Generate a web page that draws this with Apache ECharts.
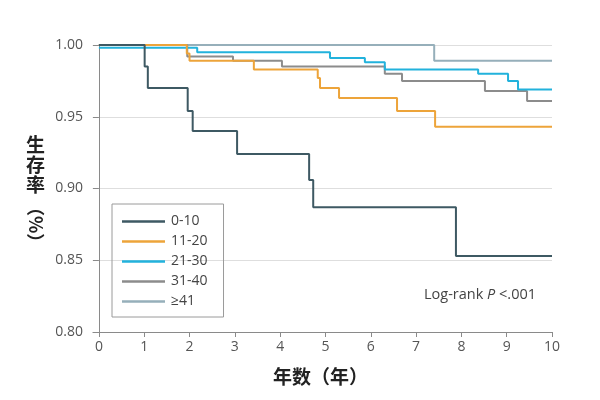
<!DOCTYPE html>
<html>
<head>
<meta charset="utf-8">
<script src="https://cdn.jsdelivr.net/npm/echarts@6/dist/echarts.min.js"></script>
<style>html,body{margin:0;padding:0;background:#fff}#c{width:600px;height:400px}</style>
</head>
<body>
<div id="c"></div>
<script>
var seriesNames = ['0-10', '11-20', '21-30', '31-40', '≥41'];
var g0_10 = [[0,1.000],[1.01,0.985],[1.08,0.970],[1.96,0.954],[2.07,0.940],[3.05,0.924],[4.64,0.906],[4.73,0.887],[7.88,0.853],[10,0.853]];
var g11_20 = [[0,1.000],[1.94,0.994],[2.00,0.989],[3.42,0.983],[4.83,0.977],[4.88,0.970],[5.30,0.963],[6.58,0.954],[7.42,0.943],[10,0.943]];
var g21_30 = [[0,0.998],[2.17,0.995],[5.10,0.991],[5.87,0.988],[6.31,0.983],[8.37,0.980],[9.03,0.975],[9.25,0.969],[10,0.969]];
var g31_40 = [[0,1.000],[1.95,0.992],[2.96,0.989],[4.04,0.985],[6.31,0.980],[6.69,0.975],[8.52,0.968],[9.45,0.961],[10,0.961]];
var g41 = [[0,1.000],[7.40,0.989],[10,0.989]];
var xTicks = [0,1,2,3,4,5,6,7,8,9,10];
var yTicks = [0.80,0.85,0.90,0.95,1.00];

var colors = ['#3e5963', '#eda43a', '#22b2dc', '#8c8c8c', '#96afba'];
var allData = [g0_10, g11_20, g21_30, g31_40, g41];

var chart = echarts.init(document.getElementById('c'), null, {renderer: 'canvas'});
var font = '"Open Sans", "Noto Sans", sans-serif';
var cjk = '"Noto Sans CJK SC", sans-serif';

var series = allData.map(function(d, i){
  return {
    name: seriesNames[i], type: 'line', step: 'end', data: d,
    symbol: 'none', showSymbol: false,
    lineStyle: {color: colors[i], width: 2},
    itemStyle: {color: colors[i]},
    z: 10 - i
  };
});

chart.setOption({
  animation: false,
  backgroundColor: '#fff',
  grid: {left: 93, right: 48, top: 45, bottom: 68, containLabel: false},
  xAxis: {
    type: 'value', min: -0.13, max: 10,
    axisLine: {show: true, lineStyle: {color: '#8a8a8a', width: 1}},
    axisTick: {show: true, length: 5, customValues: xTicks, lineStyle: {color: '#8a8a8a'}},
    axisLabel: {color: '#555', fontSize: 14, fontFamily: font, margin: 8, customValues: xTicks,
      formatter: function(v){ return String(v); }},
    splitLine: {show: false}
  },
  yAxis: {
    type: 'value', min: 0.80, max: 1.00, interval: 0.05,
    axisLine: {show: true, lineStyle: {color: '#8a8a8a', width: 1}},
    axisTick: {show: true, length: 6, lineStyle: {color: '#8a8a8a'}},
    axisLabel: {color: '#555', fontSize: 14, fontFamily: font, margin: 10,
      formatter: function(v){ return yTicks.some(function(t){ return Math.abs(t - v) < 1e-9; }) ? v.toFixed(2) : ''; }},
    splitLine: {show: true, lineStyle: {color: '#dedede', width: 1}}
  },
  legend: {
    orient: 'vertical', left: 112, top: 204,
    data: seriesNames.map(function(n, i){ return {name: n, icon: 'rect', itemStyle: {color: colors[i]}}; }),
    itemWidth: 43, itemHeight: 2.5, itemGap: 5,
    padding: [10, 16, 8, 10],
    borderColor: '#9a9a9a', borderWidth: 1,
    textStyle: {color: '#444', fontSize: 14, fontFamily: font, lineHeight: 15, padding: [0,0,0,1]}
  },
  graphic: [
    {type: 'text', left: 26, top: 135, style: {text: '生\n存\n率', font: 'bold 19px ' + cjk, fill: '#222', lineHeight: 20}},
    {type: 'text', x: 45, y: 198, rotation: -Math.PI/2, style: {text: '（%）', font: 'bold 18px ' + cjk, fill: '#222'}},
    {type: 'text', left: 273, top: 367, style: {text: '年数（年）', font: 'bold 19px ' + cjk, fill: '#222'}},
    {type: 'text', left: 424, top: 287, style: {
      text: '{a|Log-rank }{b|P}{a| <.001}',
      rich: {
        a: {fontSize: 14.5, fontFamily: font, fill: '#444'},
        b: {fontSize: 14.5, fontFamily: font, fontStyle: 'italic', fill: '#444'}
      }
    }}
  ],
  series: series
});
</script>
</body>
</html>
